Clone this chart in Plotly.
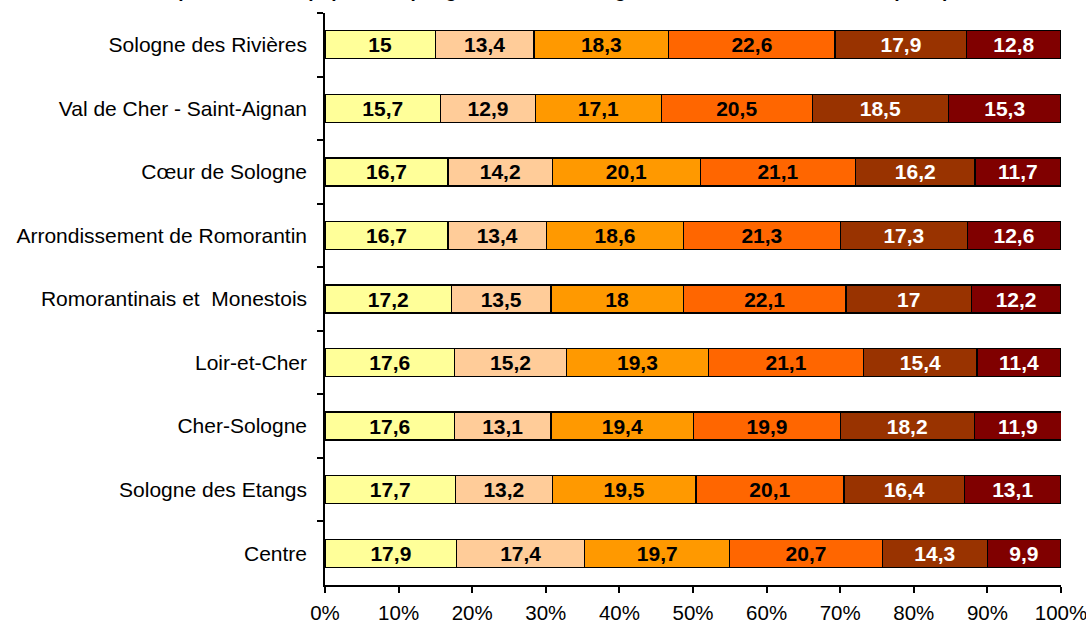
import plotly.graph_objects as go

territories = [
    "Sologne des Rivières",
    "Val de Cher - Saint-Aignan",
    "Cœur de Sologne",
    "Arrondissement de Romorantin",
    "Romorantinais et  Monestois",
    "Loir-et-Cher",
    "Cher-Sologne",
    "Sologne des Etangs",
    "Centre",
]

age_groups = ["0-14 ans", "15-29 ans", "30-44 ans", "45-59 ans", "60-74 ans", "75 ans et plus"]

g0_14 = [15, 15.7, 16.7, 16.7, 17.2, 17.6, 17.6, 17.7, 17.9]
g15_29 = [13.4, 12.9, 14.2, 13.4, 13.5, 15.2, 13.1, 13.2, 17.4]
g30_44 = [18.3, 17.1, 20.1, 18.6, 18, 19.3, 19.4, 19.5, 19.7]
g45_59 = [22.6, 20.5, 21.1, 21.3, 22.1, 21.1, 19.9, 20.1, 20.7]
g60_74 = [17.9, 18.5, 16.2, 17.3, 17, 15.4, 18.2, 16.4, 14.3]
g75p = [12.8, 15.3, 11.7, 12.6, 12.2, 11.4, 11.9, 13.1, 9.9]

series = [g0_14, g15_29, g30_44, g45_59, g60_74, g75p]
colors = ["#FFFF99", "#FFCC99", "#FF9900", "#FF6600", "#993300", "#800000"]
text_colors = ["black", "black", "black", "black", "white", "white"]

x_tickvals = [0, 10, 20, 30, 40, 50, 60, 70, 80, 90, 100]
x_ticktext = ["0%", "10%", "20%", "30%", "40%", "50%", "60%", "70%", "80%", "90%", "100%"]


def fmt(v):
    return (f"{v:g}").replace(".", ",")


fig = go.Figure()
for name, vals, col, tcol in zip(age_groups, series, colors, text_colors):
    fig.add_trace(go.Bar(
        y=territories, x=vals, name=name, orientation="h",
        marker=dict(color=col, line=dict(color="black", width=1.3)),
        text=[fmt(v) for v in vals], texttemplate="%{text}",
        textposition="inside", insidetextanchor="middle",
        constraintext="none",
        textfont=dict(family="Liberation Sans, Arial", size=21, color=tcol, weight="bold"),
    ))

fig.update_layout(
    barmode="stack",
    bargap=0.56,
    width=1086, height=628,
    margin=dict(l=325, r=25, t=13, b=43, autoexpand=False),
    paper_bgcolor="white", plot_bgcolor="white",
    showlegend=False,
    font=dict(family="Liberation Sans, Arial", size=21, color="black"),
)
fig.update_xaxes(
    range=[0, 100], tickvals=x_tickvals, ticktext=x_ticktext,
    showgrid=False, zeroline=False, automargin=False,
    showline=True, linecolor="black", linewidth=1.5,
    ticks="outside", ticklen=6, tickcolor="black", tickwidth=1.5,
    ticklabelstandoff=3, ticklabeloverflow="allow",
    tickfont=dict(size=20.5),
)
fig.update_yaxes(
    autorange="reversed", showgrid=False, automargin=False,
    showline=True, linecolor="black", linewidth=1.5,
    ticks="outside", tickson="boundaries", ticklen=6, tickcolor="black", tickwidth=1.5,
    ticklabelstandoff=12,
    tickfont=dict(size=21),
)

fig.add_annotation(
    text="<b>Répartition de la population par grande tranche d'âge dans les territoires en 2006 (en %)</b>",
    xref="paper", yref="paper", x=-0.235, y=1.0175, xanchor="left", yanchor="bottom",
    showarrow=False, font=dict(size=19, color="black"),
)

fig.write_html(
    "out.html",
    config={"displayModeBar": False},
    post_script="document.body.style.margin='0';document.body.style.overflow='hidden';",
)
